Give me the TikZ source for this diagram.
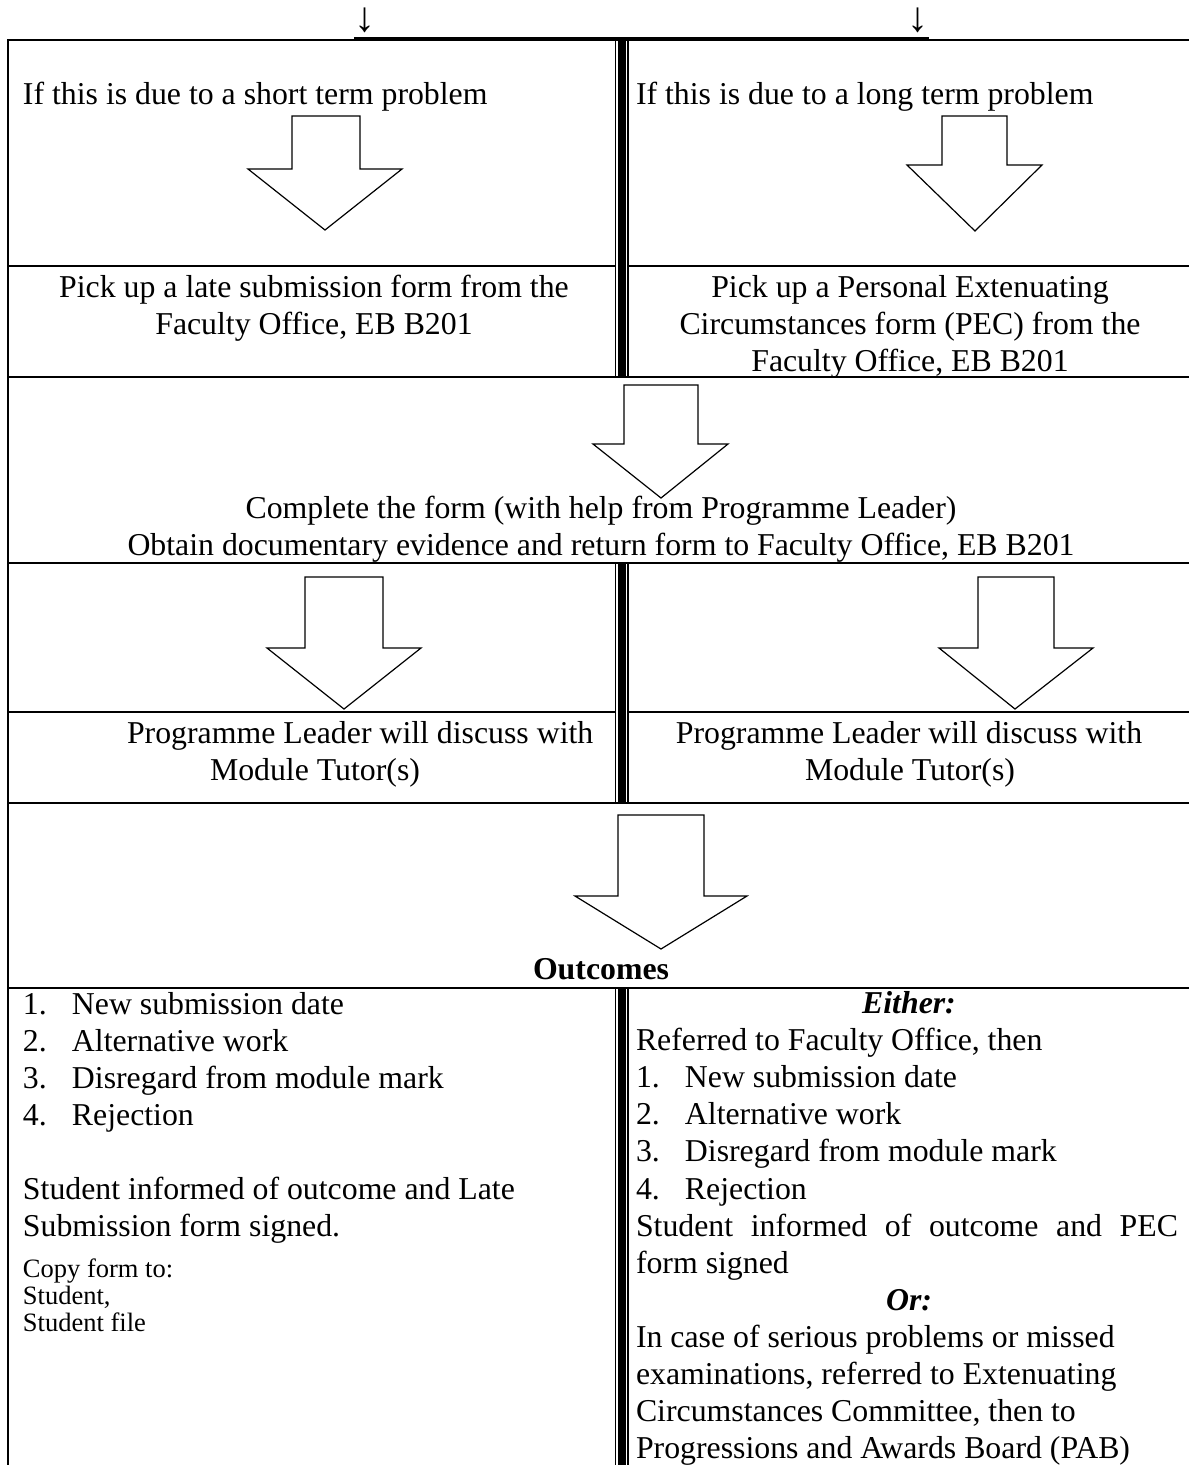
\documentclass[tikz,border=0pt]{standalone}
\usepackage{fontspec}
\setmainfont{Liberation Serif}
\newcommand\bigfs{\fontsize{31.8pt}{37.1pt}\selectfont}
\newcommand\smallfs{\fontsize{26.5pt}{28pt}\selectfont}
\newcommand\arrfs{\fontsize{42pt}{42pt}\selectfont}
\tikzset{
  rule/.style={line width=1.5pt, line cap=rect},
  dblfill/.style={fill=black},
  blockarrow/.style={draw, line width=1.2pt, fill=white, line join=miter},
  txt/.style={inner sep=0pt, outer sep=0pt, font=\bigfs},
  stxt/.style={inner sep=0pt, outer sep=0pt, font=\smallfs},
  atxt/.style={inner sep=0pt, outer sep=0pt, font=\arrfs},
}
\begin{document}
\begin{tikzpicture}[x=1pt, y=-1pt]
\useasboundingbox (0,0) rectangle (1189,1465);
\fill[white] (0,0) rectangle (1189,1465);

% top incoming arrows (text glyphs)
\node[atxt] (inL) at (365,20) {↓};
\node[atxt] (inR) at (918,20) {↓};

% table rules
\draw[rule] (8,40) -- (1189,40);
\fill (354,37.3) rectangle (929,40.7);
\draw[rule] (8,40) -- (8,1465);
\draw[rule] (8,266) -- (615,266);
\draw[rule] (628,266) -- (1189,266);
\draw[rule] (8,377) -- (1189,377);
\draw[rule] (8,563) -- (1189,563);
\draw[rule] (8,712) -- (615,712);
\draw[rule] (628,712) -- (1189,712);
\draw[rule] (8,803) -- (1189,803);
\draw[rule] (8,988) -- (1189,988);

% double vertical separators
\foreach \a/\b in {39/377.75, 562.25/803.75, 987.25/1465} {
  \fill[dblfill] (614.8,\a) rectangle (616.4,\b);
  \fill[dblfill] (618.4,\a) rectangle (625.8,\b);
  \fill[dblfill] (627.0,\a) rectangle (628.6,\b);
}

% block arrows
\draw[blockarrow] (292,116) -- (360,116) -- (360,169) -- (402,169) -- (325,230) -- (248,169) -- (292,169) -- cycle;
\draw[blockarrow] (942,116) -- (1007,116) -- (1007,165) -- (1042,165) -- (975,231) -- (907,165) -- (942,165) -- cycle;
\draw[blockarrow] (624,385) -- (698,385) -- (698,444) -- (728,444) -- (661,498) -- (593,444) -- (624,444) -- cycle;
\draw[blockarrow] (305,577) -- (383,577) -- (383,648) -- (421,648) -- (344,709) -- (267,648) -- (305,648) -- cycle;
\draw[blockarrow] (978,577) -- (1054,577) -- (1054,648) -- (1093,648) -- (1015,709) -- (939,648) -- (978,648) -- cycle;
\draw[blockarrow] (618,815) -- (704,815) -- (704,896) -- (747,896) -- (661,949) -- (575,896) -- (618,896) -- cycle;

% row 1
\node[txt, anchor=base west] (shortp) at (23,104) {If this is due to a short term problem};
\node[txt, anchor=base west] (longp) at (636,104) {If this is due to a long term problem};

% row 2
\node[txt, anchor=base] (lateA) at (314,297) {Pick up a late submission form from the};
\node[txt, anchor=base] (lateB) at (314,334) {Faculty Office, EB B201};
\node[txt, anchor=base] (pecA) at (910,297) {Pick up a Personal Extenuating};
\node[txt, anchor=base] (pecB) at (910,334) {Circumstances form (PEC) from the};
\node[txt, anchor=base] (pecC) at (910,371) {Faculty Office, EB B201};

% row 3
\node[txt, anchor=base] (compA) at (601,518) {Complete the form (with help from Programme Leader)};
\node[txt, anchor=base] (compB) at (601,555) {Obtain documentary evidence and return form to Faculty Office, EB B201};

% row 4
\node[txt, anchor=base west] (plA) at (127,743) {Programme Leader will discuss with};
\node[txt, anchor=base] (plB) at (315,780) {Module Tutor(s)};
\node[txt, anchor=base] (prA) at (909,743) {Programme Leader will discuss with};
\node[txt, anchor=base] (prB) at (910,780) {Module Tutor(s)};

% row 5
\node[txt, anchor=base] (outc) at (601,979) {\bfseries Outcomes};

% left outcomes
\node[txt, anchor=base west] (l1) at (23,1014) {\makebox[49pt][l]{1.}New submission date};
\node[txt, anchor=base west] (l2) at (23,1051) {\makebox[49pt][l]{2.}Alternative work};
\node[txt, anchor=base west] (l3) at (23,1088) {\makebox[49pt][l]{3.}Disregard from module mark};
\node[txt, anchor=base west] (l4) at (23,1125) {\makebox[49pt][l]{4.}Rejection};
\node[txt, anchor=base west] (linfA) at (23,1199) {Student informed of outcome and Late};
\node[txt, anchor=base west] (linfB) at (23,1236) {Submission form signed.};
\node[stxt, anchor=base west] (cpA) at (23,1277) {Copy form to:};
\node[stxt, anchor=base west] (cpB) at (23,1304) {Student,};
\node[stxt, anchor=base west] (cpC) at (23,1331) {Student file};

% right outcomes
\node[txt, anchor=base] (either) at (909,1013) {\bfseries\itshape Either:};
\node[txt, anchor=base west] (ref) at (636,1050) {Referred to Faculty Office, then};
\node[txt, anchor=base west] (r1) at (636,1087) {\makebox[49pt][l]{1.}New submission date};
\node[txt, anchor=base west] (r2) at (636,1124) {\makebox[49pt][l]{2.}Alternative work};
\node[txt, anchor=base west] (r3) at (636,1161) {\makebox[49pt][l]{3.}Disregard from module mark};
\node[txt, anchor=base west] (r4) at (636,1199) {\makebox[49pt][l]{4.}Rejection};
\node[txt, anchor=base west] (rinfA) at (636,1236) {\makebox[542pt][s]{Student informed of outcome and PEC}};
\node[txt, anchor=base west] (rinfB) at (636,1273) {form signed};
\node[txt, anchor=base] (orx) at (909,1310) {\bfseries\itshape Or:};
\node[txt, anchor=base west] (ecA) at (636,1347) {In case of serious problems or missed};
\node[txt, anchor=base west] (ecB) at (636,1384) {examinations, referred to Extenuating};
\node[txt, anchor=base west] (ecC) at (636,1421) {Circumstances Committee, then to};
\node[txt, anchor=base west] (ecD) at (636,1458) {Progressions and Awards Board (PAB)};
\end{tikzpicture}
\end{document}
